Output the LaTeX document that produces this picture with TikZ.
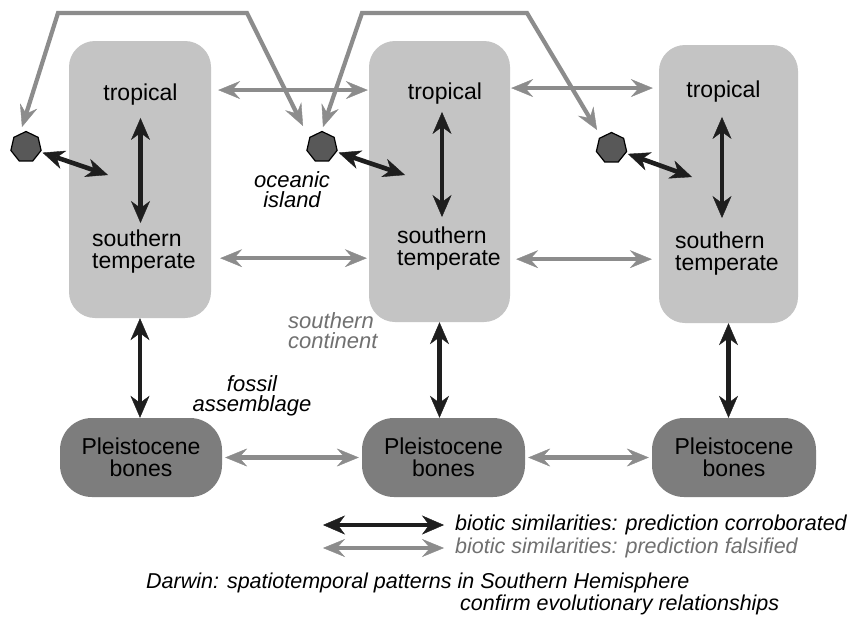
\documentclass[tikz,border=0pt]{standalone}
\usepackage{fontspec}
\setmainfont{Liberation Sans}
\usetikzlibrary{arrows.meta,shapes.geometric}
\definecolor{boxlight}{HTML}{C4C4C4}
\definecolor{boxdark}{HTML}{7D7D7D}
\definecolor{hexfill}{HTML}{585858}
\definecolor{arrblack}{HTML}{1E1E1E}
\definecolor{arrgray}{HTML}{8C8C8C}
\definecolor{txtgray}{HTML}{707070}
\begin{document}
\begin{tikzpicture}[x=1pt,y=-1pt,
  lightbox/.style={draw=none,fill=boxlight,rounded corners=26pt,inner sep=0pt},
  darkbox/.style={draw=none,fill=boxdark,rounded corners=32pt,inner sep=0pt,
    minimum height=79pt,align=center,font=\fontsize{23}{21.5}\selectfont},
  hexnode/.style={regular polygon,regular polygon sides=7,minimum size=31pt,
    inner sep=0pt,fill=hexfill,draw=black,line width=1.2pt},
  maintext/.style={inner sep=0pt,font=\fontsize{23}{21.5}\selectfont},
  labeltext/.style={inner sep=0pt,font=\fontsize{22}{20.5}\selectfont\itshape},
  legtext/.style={inner sep=0pt,font=\fontsize{21.5}{20}\selectfont\itshape},
  barrow/.style={draw=arrblack,line width=4.6pt,
    >={Stealth[length=22pt,width=19pt,inset=7pt,line width=0.4pt]},<->},
  garrow/.style={draw=arrgray,line width=4.2pt,line join=miter,
    >={Stealth[length=22pt,width=18pt,inset=8pt,line width=0.4pt]},<->}
]
\useasboundingbox[fill=white] (0,0) rectangle (851,616);

% light boxes
\node[lightbox,minimum width=142pt,minimum height=277pt] (bx1) at (140,179.5) {};
\node[lightbox,minimum width=141pt,minimum height=281pt] (bx2) at (439.5,181.5) {};
\node[lightbox,minimum width=139pt,minimum height=278pt] (bx3) at (728.5,184) {};

% texts in boxes
\node[maintext,anchor=base] (trop1) at (140.5,100) {tropical};
\node[maintext,anchor=base] (trop2) at (445,99) {tropical};
\node[maintext,anchor=base] (trop3) at (723.5,97) {tropical};
\node[maintext,anchor=north west,align=left] (so1) at (92,230) {southern\\temperate};
\node[maintext,anchor=north west,align=left] (so2) at (397,227) {southern\\temperate};
\node[maintext,anchor=north west,align=left] (so3) at (675,232) {southern\\temperate};

% Pleistocene boxes
\node[darkbox,minimum width=162pt] (pl1) at (141,457.5) {Pleistocene\\bones};
\node[darkbox,minimum width=163pt] (pl2) at (443.5,457.5) {Pleistocene\\bones};
\node[darkbox,minimum width=164pt] (pl3) at (734,457.5) {Pleistocene\\bones};

% islands
\node[hexnode] (hx1) at (26,147) {};
\node[hexnode] (hx2) at (322,147) {};
\node[hexnode] (hx3) at (611.5,148) {};

% labels
\node[labeltext,anchor=north,align=center] (ocean) at (292,171) {oceanic\\island};
\node[labeltext,anchor=north west,align=left,text=txtgray] (cont) at (288,312) {southern\\continent};
\node[labeltext,anchor=north,align=center] (fossil) at (252,375) {fossil\\assemblage};

% vertical black arrows inside boxes
\draw[barrow,shorten <=13pt,shorten >=7pt] (trop1.south) -- (trop1.south |- so1.north);
\draw[barrow,shorten <=8pt,shorten >=10pt] ([xshift=-3pt]trop2.south) -- ([xshift=-3pt]trop2.south |- so2.north);
\draw[barrow,shorten <=15pt,shorten >=14pt] ([xshift=-1.5pt]trop3.south) -- ([xshift=-1.5pt]trop3.south |- so3.north);

% vertical black arrows box -> bones
\draw[barrow] (bx1.south) -- (bx1.south |- pl1.north);
\draw[barrow] (bx2.south) -- (bx2.south |- pl2.north);
\draw[barrow] (bx3.south) -- (bx3.south |- pl3.north);

% island arrows
\coordinate (e1) at (108,175);
\coordinate (e2) at (405,175);
\coordinate (e3) at (692,177);
\draw[barrow,shorten <=2pt] (hx1) -- (e1);
\draw[barrow,shorten <=2pt] (hx2) -- (e2);
\draw[barrow,shorten <=2pt] (hx3) -- (e3);

% gray horizontal arrows
\draw[garrow,shorten <=7pt,shorten >=1pt] ([yshift=4pt]bx1.east |- trop1) -- ([yshift=4pt]bx2.west |- trop1);
\draw[garrow,shorten <=1pt,shorten >=6pt] ([yshift=3pt]bx2.east |- trop3) -- ([yshift=3pt]bx3.west |- trop3);
\draw[garrow,shorten <=9pt,shorten >=2pt] ([yshift=-6.5pt]bx1.east |- so1) -- ([yshift=-6.5pt]bx2.west |- so1);
\draw[garrow,shorten <=6pt,shorten >=7pt] ([yshift=-7.5pt]bx2.east |- so1) -- ([yshift=-7.5pt]bx3.west |- so1);
\draw[garrow,shorten <=3pt,shorten >=3pt] (pl1.east) -- (pl2.west);
\draw[garrow,shorten <=3pt,shorten >=3pt] (pl2.east) -- (pl3.west);

% gray top paths
\coordinate (tA1) at (22,127);
\coordinate (tA2) at (303,126);
\coordinate (tB1) at (323,127);
\coordinate (tB2) at (597,130);
\draw[garrow] (tA1) -- (58,13) -- (247,13) -- (tA2);
\draw[garrow] (tB1) -- (362,13) -- (527,13) -- (tB2);

% legend
\coordinate (lb1) at (323,525);
\coordinate (lb2) at (444,525);
\coordinate (lg1) at (323,548);
\coordinate (lg2) at (444,548);
\draw[barrow] (lb1) -- (lb2);
\draw[garrow] (lg1) -- (lg2);
\node[legtext,anchor=base west] (leg1) at (455,530) {biotic similarities: prediction corroborated};
\node[legtext,anchor=base west,text=txtgray] (leg2) at (455,553) {biotic similarities: prediction falsified};

% caption
\node[legtext,anchor=base west] (cap1) at (146,588) {Darwin: spatiotemporal patterns in Southern Hemisphere};
\node[legtext,anchor=base west] (cap2) at (460,610) {confirm evolutionary relationships};
\end{tikzpicture}
\end{document}
